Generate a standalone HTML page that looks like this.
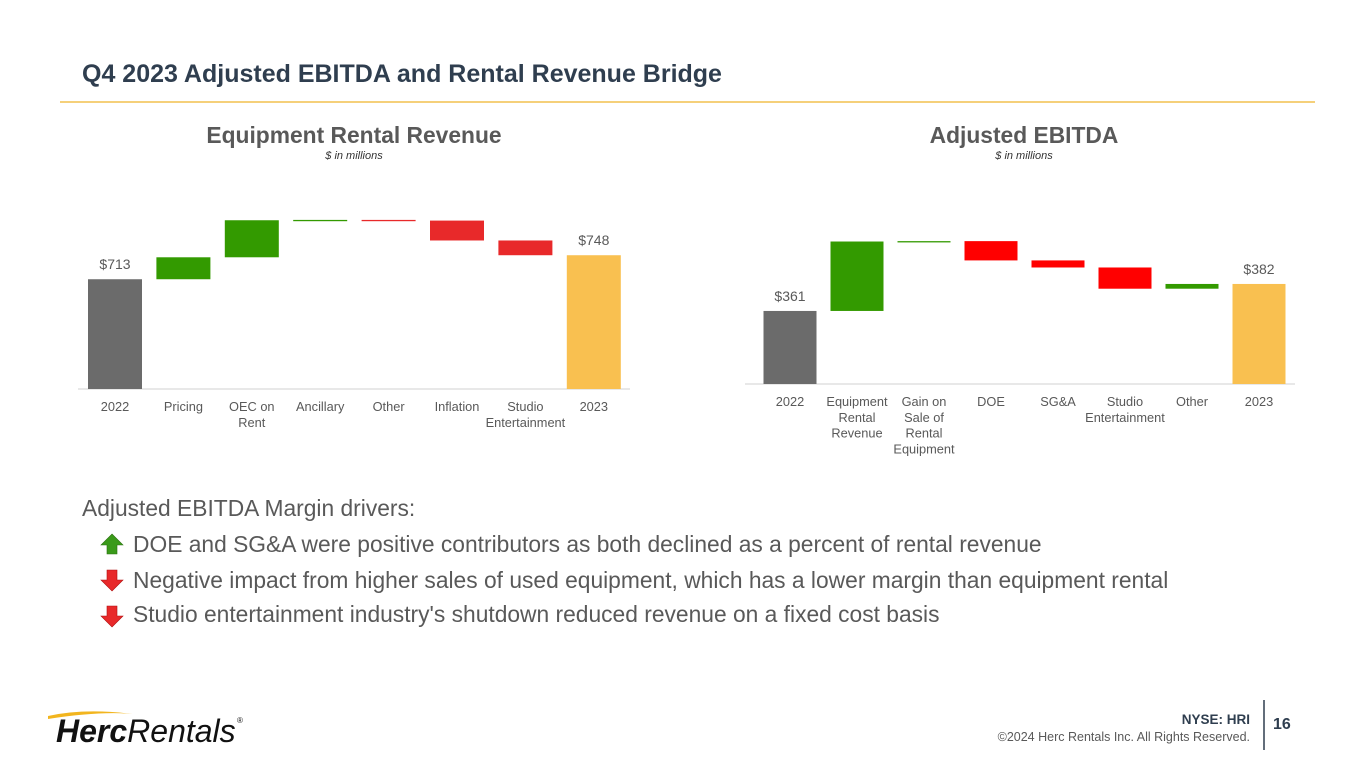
<!DOCTYPE html>
<html><head><meta charset="utf-8"><style>
body{margin:0;background:#fff}
svg{display:block;font-family:"Liberation Sans",Arial,sans-serif}
</style></head><body>
<svg id="s" width="1365" height="769" viewBox="0 0 1365 769">
<text x="82" y="82" font-size="25" font-weight="bold" fill="#2f3e4f">Q4 2023 Adjusted EBITDA and Rental Revenue Bridge</text>
<line x1="60" y1="102" x2="1315" y2="102" stroke="#f2c14e" stroke-width="1.5"/>
<text x="354" y="143" font-size="22.8" font-weight="bold" fill="#595959" text-anchor="middle">Equipment Rental Revenue</text>
<text x="354" y="159" font-size="11" font-style="italic" fill="#333" text-anchor="middle">$ in millions</text>
<text x="1024" y="143" font-size="22.8" font-weight="bold" fill="#595959" text-anchor="middle">Adjusted EBITDA</text>
<text x="1024" y="159" font-size="11" font-style="italic" fill="#333" text-anchor="middle">$ in millions</text>
<g id="left"></g>
<g id="right"></g>
<g font-size="22.8" fill="#595959">
<text x="82" y="516">Adjusted EBITDA Margin drivers:</text>
<path d="M112 534 L123 545 L117 545 L117 554 L107 554 L107 545 L101 545 Z" fill="#3a9a1a" stroke="#2a7010" stroke-width="0.6"/>
<text x="133" y="552">DOE and SG&amp;A were positive contributors as both declined as a percent of rental revenue</text>
<path d="M112 591 L123 580 L117 580 L117 570 L107 570 L107 580 L101 580 Z" fill="#e8292a" stroke="#b01010" stroke-width="0.6"/>
<text x="133" y="588">Negative impact from higher sales of used equipment, which has a lower margin than equipment rental</text>
<path d="M112 627 L123 616 L117 616 L117 606 L107 606 L107 616 L101 616 Z" fill="#e8292a" stroke="#b01010" stroke-width="0.6"/>
<text x="133" y="622">Studio entertainment industry's shutdown reduced revenue on a fixed cost basis</text>
</g>
<g>
<path d="M48 716 Q85 708 132 714 Q100 711 48 719 Z" fill="#f2b51e"/>
<text x="56" y="742" font-size="32" font-style="italic" fill="#111"><tspan font-weight="bold">Herc</tspan>Rentals</text>
<text x="237" y="723" font-size="8" fill="#111">®</text>
</g>
<text x="1250" y="724" font-size="13.5" font-weight="bold" fill="#2f3e4f" text-anchor="end">NYSE: HRI</text>
<text x="1250" y="741" font-size="12.5" fill="#595959" text-anchor="end">©2024 Herc Rentals Inc.  All Rights Reserved.</text>
<line x1="1264" y1="700" x2="1264" y2="750" stroke="#2f3e4f" stroke-width="1.5"/>
<text x="1273" y="729" font-size="16" font-weight="bold" fill="#2f3e4f">16</text>
</svg>
<script>
const leftCats=[["2022"],["Pricing"],["OEC on","Rent"],["Ancillary"],["Other"],["Inflation"],["Studio","Entertainment"],["2023"]];
const leftValues=[713,32,54,0.5,-1,-29,-21.5,748];
const leftLabels=["$713","","","","","","","$748"];
const rightCats=[["2022"],["Equipment","Rental","Revenue"],["Gain on","Sale of","Rental","Equipment"],["DOE"],["SG&A"],["Studio","Entertainment"],["Other"],["2023"]];
const rightValues=[361,54,0.3,-15,-5.5,-16.5,3.7,382];
const rightLabels=["$361","","","","","","","$382"];
const NS="http://www.w3.org/2000/svg";
function mk(p,t,a){const e=document.createElementNS(NS,t);for(const k in a)e.setAttribute(k,a[k]);p.appendChild(e);return e;}
function draw(g,cats,vals,labels,cfg){
  const y=v=>cfg.base-(v-cfg.min)*cfg.k;
  const x=i=>cfg.x0+i*cfg.step;
  const ax=mk(g,'line',{x1:cfg.ax0,x2:cfg.ax1,y1:cfg.base,y2:cfg.base,stroke:'#d0d0d0','stroke-width':1});
  
  
  let run=0;
  vals.forEach((v,i)=>{
    let top,bot,fill;
    if(i===0||i===vals.length-1){top=y(v);bot=cfg.base;fill=i===0?'#6b6b6b':'#f9c050';run=v;}
    else{const a=run,b=run+v;run=b;top=y(Math.max(a,b));bot=y(Math.min(a,b));fill=v>=0?'#339a00':cfg.red;}
    let h=Math.max(bot-top,1.3);
    const r=mk(g,'rect',{x:x(i)-cfg.w/2,y:top,width:cfg.w,height:h,fill:fill});
    
    
    if(labels[i]){const t=mk(g,'text',{x:x(i),y:top-10,'font-size':14,fill:'#595959','text-anchor':'middle'});t.textContent=labels[i];
      
      }
    const t=mk(g,'text',{x:x(i),y:cfg.ly,'font-size':12.8,fill:'#595959','text-anchor':'middle'});
    
    
    cats[i].forEach((s,j)=>{const ts=mk(t,'tspan',{x:x(i),dy:j?15.8:0});ts.textContent=s;});
  });
}
draw(document.getElementById('left'),leftCats,leftValues,leftLabels,{base:389,min:553,k:0.686,x0:115,step:68.4,w:54,ax0:78,ax1:630,ly:411,red:'#e8292a'});
draw(document.getElementById('right'),rightCats,rightValues,rightLabels,{base:384,min:304.2,k:1.286,x0:790,step:67,w:53,ax0:745,ax1:1295,ly:406,red:'#ff0000'});
</script>
</body></html>
